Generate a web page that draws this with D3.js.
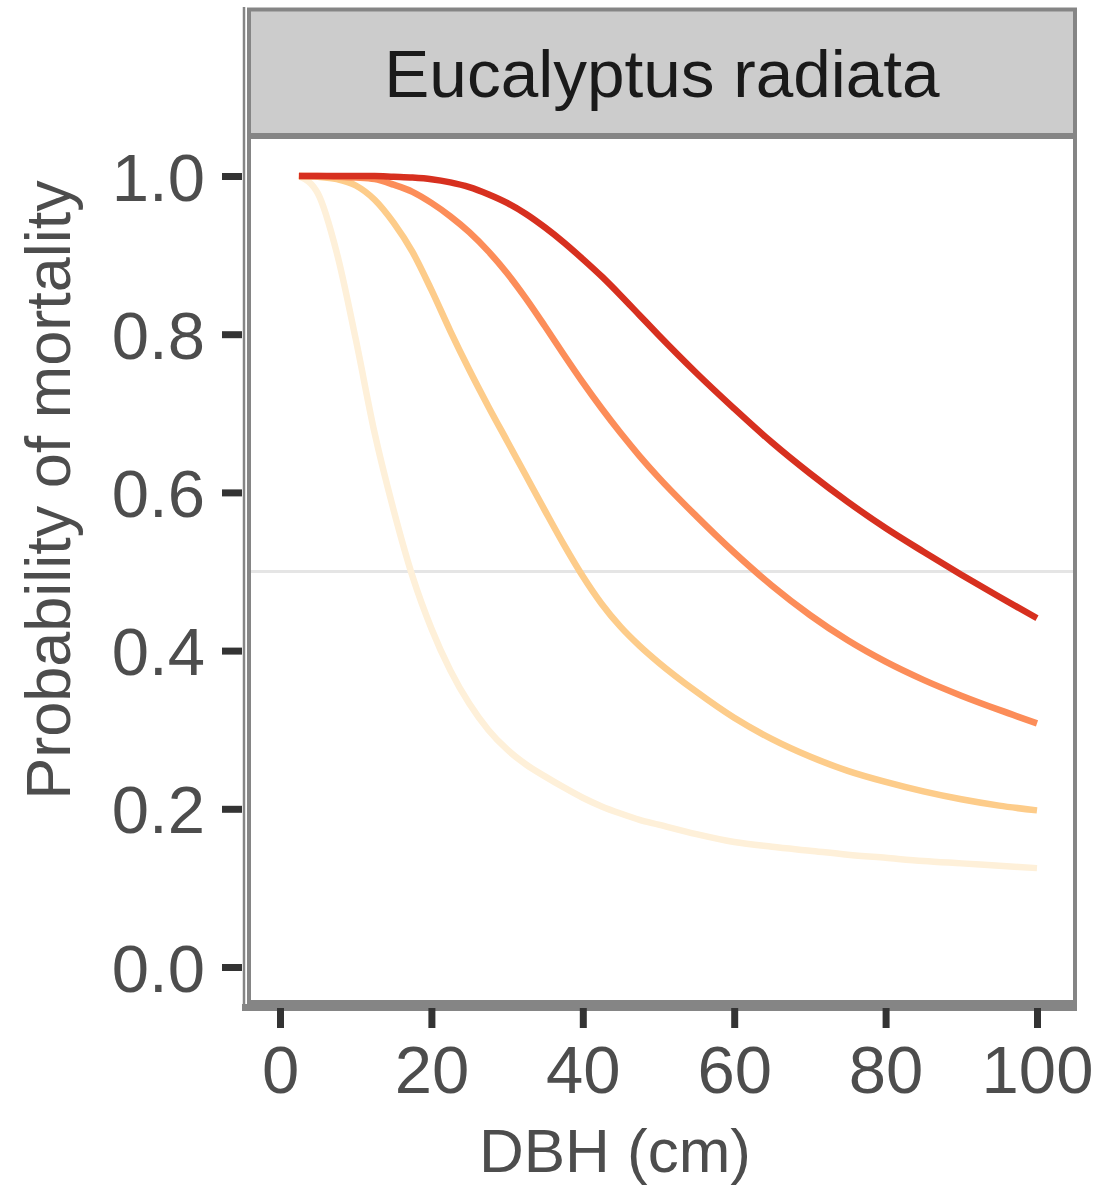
<!DOCTYPE html>
<html>
<head>
<meta charset="utf-8">
<script src="https://cdn.jsdelivr.net/npm/d3@7"></script>
<style>
  body { margin: 0; background: #ffffff; }
  svg { display: block; font-family: "Liberation Sans", Arial, sans-serif; }
</style>
</head>
<body>
<svg id="chart" width="1109" height="1185"></svg>
<script>
// facet title
let panelTitle = "Eucalyptus radiata";

// x values shared by every curve (DBH, cm)
let dbh = [2.5, 5, 7.5, 10, 12.5, 15, 17.5, 20, 22.5, 25, 27.5, 30, 32.5, 35, 37.5, 40,
  42.5, 45, 47.5, 50, 55, 60, 65, 70, 75, 80, 85, 90, 95, 100];

// probability of mortality (lightest to darkest)
let seriesA = [1.0, 0.978, 0.903, 0.794, 0.675, 0.578, 0.494, 0.428, 0.375, 0.333, 0.300, 0.275,
  0.256, 0.241, 0.227, 0.214, 0.203, 0.194, 0.186, 0.180, 0.168, 0.158, 0.152, 0.147, 0.142,
  0.138, 0.134, 0.131, 0.128, 0.125];
let seriesB = [1.0, 0.999, 0.996, 0.988, 0.970, 0.941, 0.904, 0.856, 0.804, 0.755, 0.709, 0.665,
  0.621, 0.577, 0.534, 0.494, 0.459, 0.430, 0.406, 0.385, 0.348, 0.315, 0.288, 0.266, 0.248,
  0.234, 0.222, 0.212, 0.204, 0.198];
let seriesC = [1.0, 1.0, 0.999, 0.998, 0.996, 0.989, 0.980, 0.966, 0.949, 0.929, 0.905, 0.877,
  0.845, 0.810, 0.774, 0.739, 0.706, 0.675, 0.646, 0.619, 0.570, 0.524, 0.482, 0.445, 0.413,
  0.386, 0.363, 0.343, 0.325, 0.308];
let seriesD = [1.0, 1.0, 1.0, 1.0, 1.0, 0.999, 0.998, 0.996, 0.992, 0.986, 0.977, 0.966,
  0.952, 0.935, 0.916, 0.895, 0.873, 0.849, 0.824, 0.799, 0.751, 0.706, 0.663, 0.624, 0.588,
  0.555, 0.525, 0.496, 0.468, 0.441];

let seriesNames = ["A", "B", "C", "D"];
let allSeries = [seriesA, seriesB, seriesC, seriesD];

let xTicks = [0, 20, 40, 60, 80, 100];
let yTicks = [0.0, 0.2, 0.4, 0.6, 0.8, 1.0];
let refLine = 0.5;

document.addEventListener("DOMContentLoaded", (event) => {
  create_chart();
});

function create_chart() {
  let svg = d3.select("#chart");

  // panel box (centre of the grey border)
  let panel = { left: 249, right: 1075, stripTop: 9.5, stripBottom: 135, bottom: 1002 };

  let x = d3.scaleLinear().domain([0, 100]).range([280, 1037]);
  let y = d3.scaleLinear().domain([0, 1]).range([967, 176]);

  // OrRd colours, light to dark
  let z = d3.scaleOrdinal().domain(seriesNames)
    .range(["#fef0d9", "#fdcc8a", "#fc8d59", "#d7301f"]);

  // strip
  svg.append("rect")
    .attr("x", panel.left)
    .attr("y", panel.stripTop)
    .attr("width", panel.right - panel.left)
    .attr("height", panel.stripBottom - panel.stripTop)
    .attr("fill", "#cccccc")
    .attr("stroke", "#858585")
    .attr("stroke-width", 4);

  svg.append("text")
    .attr("x", (panel.left + panel.right) / 2)
    .attr("y", 97)
    .attr("text-anchor", "middle")
    .style("font-size", "67.5px")
    .attr("fill", "#1a1a1a")
    .text(panelTitle);

  // reference line at 0.5
  svg.append("line")
    .attr("x1", panel.left + 2)
    .attr("x2", panel.right - 2)
    .attr("y1", y(refLine))
    .attr("y2", y(refLine))
    .attr("stroke", "#e5e5e5")
    .attr("stroke-width", 3);

  // curves
  let line = d3.line()
    .curve(d3.curveMonotoneX)
    .x((d) => x(d[0]))
    .y((d) => y(d[1]));

  allSeries.forEach(function (values, i) {
    svg.append("path")
      .datum(dbh.map((d, j) => [d, values[j]]))
      .attr("fill", "none")
      .attr("stroke", z(seriesNames[i]))
      .attr("stroke-width", 6.5)
      .attr("d", line);
  });

  // panel border
  svg.append("rect")
    .attr("x", panel.left)
    .attr("y", panel.stripBottom + 2)
    .attr("width", panel.right - panel.left)
    .attr("height", panel.bottom - panel.stripBottom - 2)
    .attr("fill", "none")
    .attr("stroke", "#858585")
    .attr("stroke-width", 4);

  // axis lines
  svg.append("line")
    .attr("x1", 244).attr("x2", 244)
    .attr("y1", 7).attr("y2", 1008)
    .attr("stroke", "#858585")
    .attr("stroke-width", 2.5);

  svg.append("line")
    .attr("x1", 242).attr("x2", 1077)
    .attr("y1", 1007.5).attr("y2", 1007.5)
    .attr("stroke", "#858585")
    .attr("stroke-width", 7);

  // y axis
  let yAxis = svg.append("g")
    .attr("transform", "translate(242,0)")
    .call(d3.axisLeft(y).tickValues(yTicks).tickFormat(d3.format(".1f")).tickSize(20).tickPadding(17));
  yAxis.select(".domain").remove();
  yAxis.selectAll(".tick line").attr("stroke", "#333333").attr("stroke-width", 7);
  yAxis.selectAll(".tick text")
    .attr("fill", "#4d4d4d")
    .attr("dy", "0.36em")
    .style("font-size", "67px")
    .style("font-family", "'Liberation Sans', Arial, sans-serif");

  // x axis
  let xAxis = svg.append("g")
    .attr("transform", "translate(0,1008)")
    .call(d3.axisBottom(x).tickValues(xTicks).tickSize(20).tickPadding(0));
  xAxis.select(".domain").remove();
  xAxis.selectAll(".tick line").attr("stroke", "#333333").attr("stroke-width", 7);
  xAxis.selectAll(".tick text")
    .attr("fill", "#4d4d4d")
    .attr("y", 85)
    .attr("dy", 0)
    .style("font-size", "67px")
    .style("font-family", "'Liberation Sans', Arial, sans-serif");

  // axis titles
  svg.append("text")
    .attr("x", 615)
    .attr("y", 1172)
    .attr("text-anchor", "middle")
    .style("font-size", "62px")
    .attr("fill", "#4d4d4d")
    .text("DBH (cm)");

  svg.append("text")
    .attr("transform", "translate(70,490) rotate(-90)")
    .attr("text-anchor", "middle")
    .style("font-size", "63px")
    .attr("fill", "#4d4d4d")
    .text("Probability of mortality");
}
</script>
</body>
</html>
